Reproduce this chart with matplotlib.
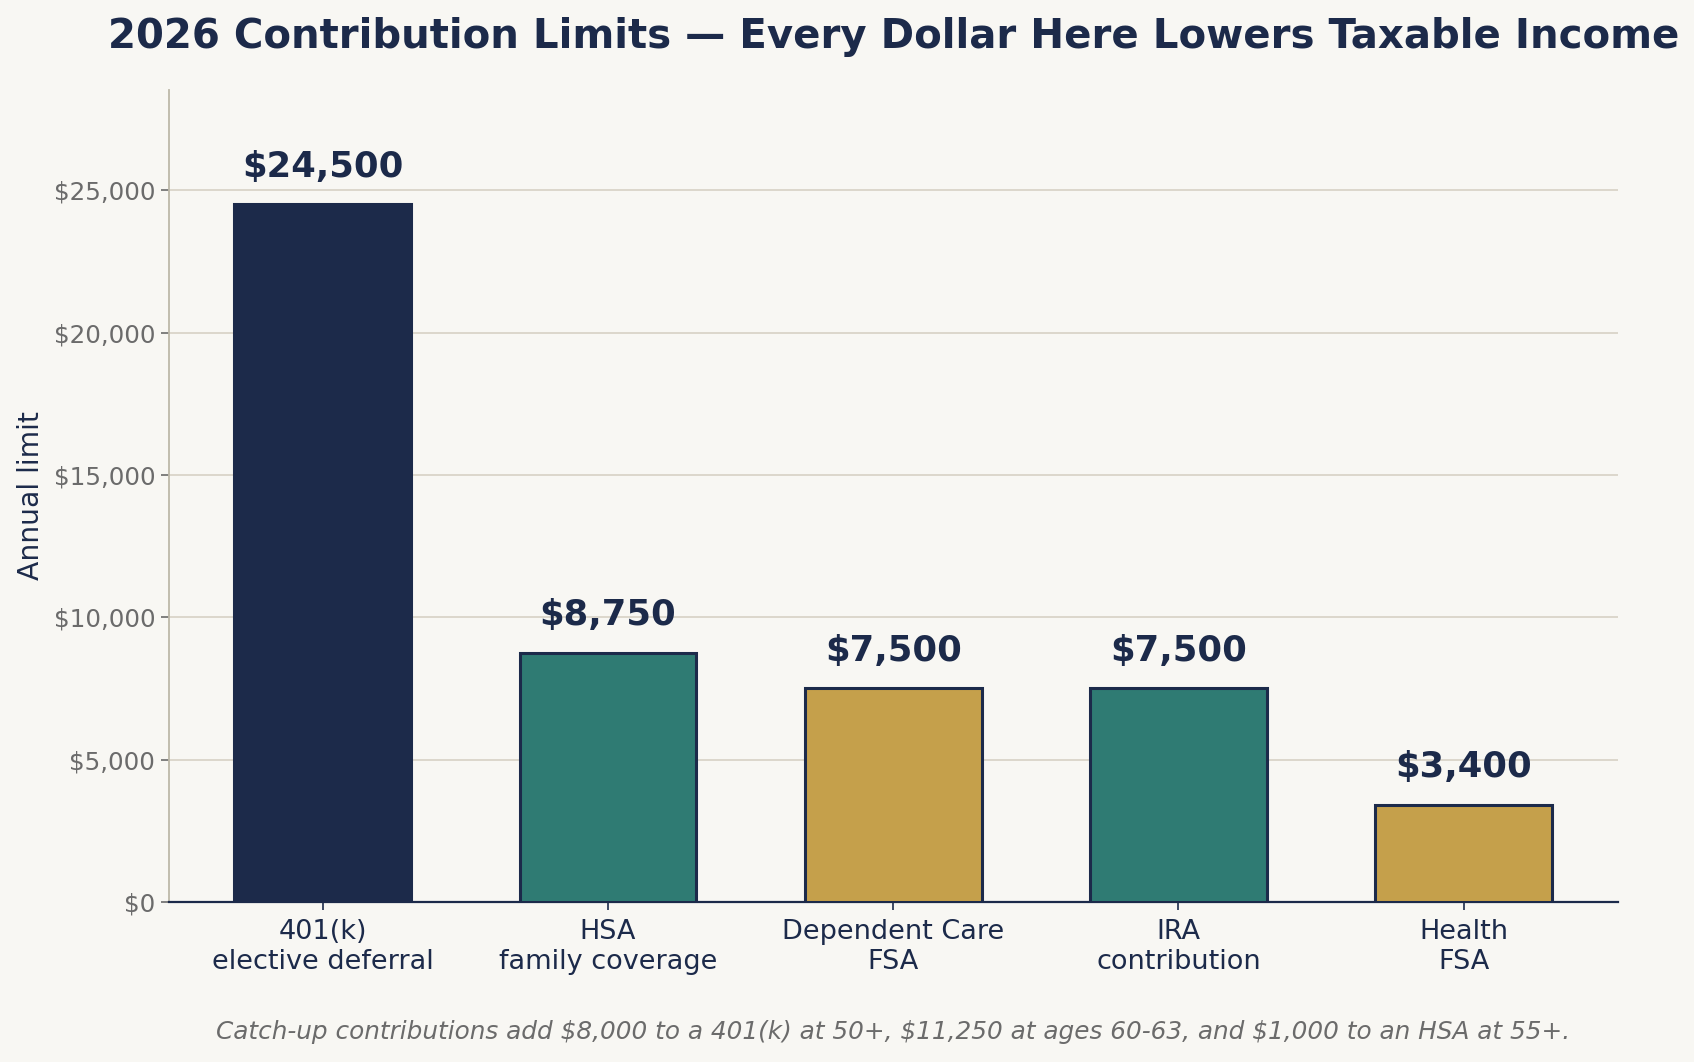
import matplotlib
matplotlib.use("Agg")
import matplotlib.pyplot as plt
from matplotlib.ticker import FuncFormatter

categories = ["401(k)\nelective deferral", "HSA\nfamily coverage", "Dependent Care\nFSA",
              "IRA\ncontribution", "Health\nFSA"]
values = [24500, 8750, 7500, 7500, 3400]
bar_colors = ["#1c2a4a", "#2f7b73", "#c5a04b", "#2f7b73", "#c5a04b"]

NAVY = "#1c2a4a"
BG = "#f8f7f3"

plt.rcParams['font.family'] = ['DejaVu Sans']
fig = plt.figure(figsize=(16.94, 10.62), dpi=100, facecolor=BG)
ax = fig.add_axes([168.5/1694, 1 - 902/1062, (1618-168.5)/1694, (902-89.7)/1062])
ax.set_facecolor(BG)

x = list(range(len(values)))
bars = ax.bar(x, values, width=0.62, color=bar_colors, edgecolor=NAVY, linewidth=2.2, zorder=3)

for xi, v in zip(x, values):
    ax.annotate(f"${v:,.0f}", (xi, v), xytext=(0, 15), textcoords="offset points",
                ha="center", va="bottom", fontsize=25.5, fontweight="bold", color=NAVY)

ax.set_ylim(0, 28530)
ax.set_yticks([0, 5000, 10000, 15000, 20000, 25000])
ax.yaxis.set_major_formatter(FuncFormatter(lambda v, p: f"${v:,.0f}"))
ax.set_xticks(x)
ax.set_xticklabels(categories, fontsize=19.5, color=NAVY)
ax.tick_params(axis="y", labelsize=17.7, colors="#6b6b6b", length=6, width=1.2)
ax.tick_params(axis="x", colors=NAVY, length=6, width=1.2, pad=6)
for lab in ax.get_xticklabels():
    lab.set_color(NAVY)
    lab.set_linespacing(1.2)

ax.grid(axis="y", color="#d9d4c8", linewidth=1.3, zorder=0)
ax.set_axisbelow(True)
for s in ["top", "right"]:
    ax.spines[s].set_visible(False)
ax.spines["left"].set_color("#bdb8a8")
ax.spines["left"].set_linewidth(1.3)
ax.spines["bottom"].set_color(NAVY)
ax.spines["bottom"].set_linewidth(1.6)

ax.set_ylabel("Annual limit", fontsize=20.3, color=NAVY, labelpad=6)

ax.set_title("2026 Contribution Limits \u2014 Every Dollar Here Lowers Taxable Income",
             fontsize=29, fontweight="bold", color=NAVY, pad=30)

fig.text((168.5 + 1618) / 2 / 1694, 1 - 1032 / 1062,
         "Catch-up contributions add $8,000 to a 401(k) at 50+, $11,250 at ages 60-63, and $1,000 to an HSA at 55+.",
         ha="center", va="center", fontsize=17.8, style="italic", color="#6b6b6b")

fig.savefig("out.png", dpi=100, facecolor=BG)
